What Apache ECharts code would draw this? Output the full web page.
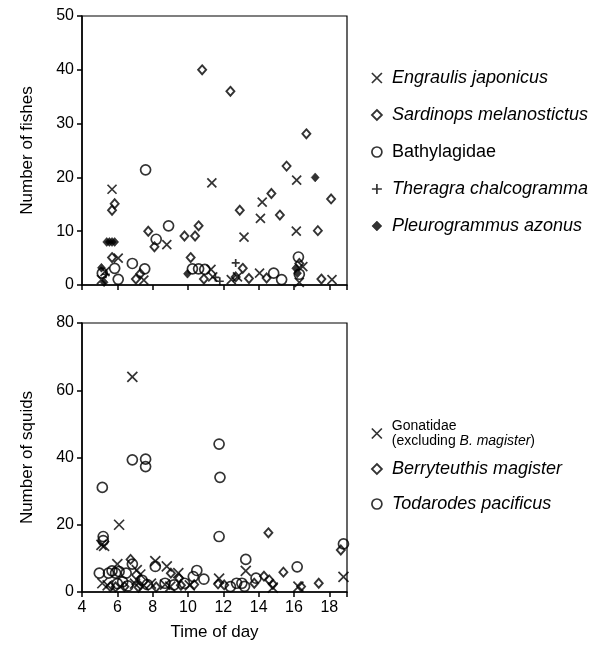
<!DOCTYPE html>
<html><head><meta charset="utf-8">
<script src="https://cdn.jsdelivr.net/npm/echarts@6/dist/echarts.min.js"></script>
<style>html,body{margin:0;padding:0;background:#fff}#c{width:609px;height:647px}</style>
</head><body><div id="c"></div><script>
// ---- Top panel: fishes (time of day, number) ----
const engraulis = [[5.7,17.8],[6.05,5],[5.1,1],[5.3,2.5],[7.5,0.9],[8.8,7.5],[11.35,19],[11.3,2.9],[11.4,1.5],[12.45,1.0],[12.8,1.5],[13.17,8.9],[14.1,12.4],[14.2,15.4],[14.05,2.2],[16.15,19.5],[16.13,10],[16.5,3.4],[16.3,0.5],[18.15,1.0]];
const sardinops = [[5.85,15.1],[5.7,13.9],[5.7,5.1],[7.3,2.1],[7.05,1.1],[7.75,10],[8.1,7.1],[9.8,9.1],[10.4,9.1],[10.6,11],[10.15,5.1],[10.9,1.1],[10.8,40],[12.4,36],[12.93,13.9],[12.7,1.5],[13.1,3.1],[13.45,1.2],[14.45,1.3],[14.72,17],[15.2,13],[15.58,22.1],[16.7,28.1],[16.3,4.0],[17.35,10.1],[17.55,1.1],[18.1,16]];
const bathylagidae = [[5.15,2.2],[5.85,3.1],[6.05,1.05],[6.85,4],[7.55,3.0],[7.6,21.4],[8.2,8.5],[8.9,11],[10.25,3.0],[10.6,3.0],[10.95,2.9],[14.85,2.2],[15.3,1.0],[16.3,2.0],[16.25,5.2]];
const theragra = [[5.35,2.0],[11.55,1.4],[11.8,0.7],[12.7,4.1]];
const pleurogrammus = [[5.4,8],[5.55,8],[5.7,8],[5.85,8],[5.1,3.2],[5.25,0.5],[9.97,2.1],[16.1,3.1],[16.2,2.2],[17.2,20]];
// ---- Bottom panel: squids ----
const gonatidae = [[6.85,64],[6.1,20],[5.1,14],[5.25,13.7],[6.0,8.3],[7.1,6.5],[7.1,3.6],[7.3,5.2],[7.0,2.5],[5.15,2.6],[5.45,2.0],[8.15,9.2],[8.8,7.6],[9.45,5.6],[7.9,2.5],[7.5,2.0],[8.7,2.2],[9.0,1.6],[10.1,2.0],[11.76,4.0],[13.27,6.3],[14.8,1.3],[16.25,1.6],[18.8,4.5]];
const berryteuthis = [[6.75,9.7],[5.6,1.6],[5.9,1.5],[6.4,1.6],[7.2,1.4],[8.2,1.5],[9.03,5.6],[9.5,4.1],[9.6,2.0],[10.35,2.2],[11.7,2.4],[12.05,2.1],[13.75,2.6],[14.3,4.7],[14.6,3.6],[14.8,2.3],[14.55,17.6],[15.4,5.9],[16.4,1.6],[17.4,2.6],[18.65,12.5]];
const todarodes = [[6.85,39.3],[7.6,39.5],[7.6,37.3],[5.15,31.1],[5.2,16.5],[5.2,15.3],[4.98,5.6],[5.5,5.6],[5.7,6.3],[5.9,5.6],[6.1,6.1],[6.5,5.6],[6.85,8.3],[8.15,7.6],[10.5,6.4],[10.3,4.6],[10.9,3.8],[9.2,2.1],[9.8,2.6],[6.0,2.5],[6.3,3.0],[6.6,1.8],[7.4,3.5],[7.7,2.2],[8.7,2.6],[11.76,44],[11.81,34.1],[11.76,16.5],[13.27,9.7],[12.4,1.6],[12.75,2.6],[13.05,2.6],[13.2,1.7],[13.85,4.1],[16.18,7.5],[18.8,14.3]];

const xTicks = {min: 4, max: 19, interval: 2};
const topY = {min: 0, max: 50, interval: 10};
const botY = {min: 0, max: 80, interval: 20};

const CROSS = 'path://M0,0L10,10M10,0L0,10';
const PLUS = 'path://M5,0L5,10M0,5L10,5';
const FONT = '"Liberation Sans", Arial, Helvetica, sans-serif';
const hollow = w => ({color: 'transparent', borderColor: '#000', borderWidth: w});
const filled = {color: '#000', borderColor: '#000', borderWidth: 0.5};

function sc(name, data, idx, symbol, size, style) {
  return {type: 'scatter', name, data, xAxisIndex: idx, yAxisIndex: idx,
    symbol, symbolSize: size, itemStyle: style, silent: true, animation: false};
}
const axisBase = {
  axisLine: {show: true, onZero: false, lineStyle: {color: '#000', width: 1.5}},
  axisTick: {show: true, inside: false, length: 5, lineStyle: {color: '#000', width: 1.5}},
  splitLine: {show: false},
  axisLabel: {color: '#000', fontSize: 16, fontFamily: FONT}
};
const legText = {color: '#000', fontSize: 18, fontFamily: FONT, fontStyle: 'italic', lineHeight: 20, padding: [0, 0, 0, 5]};

const chart = echarts.init(document.getElementById('c'), null, {renderer: 'canvas'});
chart.setOption({
  backgroundColor: '#fff',
  animation: false,
  grid: [
    {left: 82, top: 16, width: 265, height: 269, show: true, borderColor: '#000', borderWidth: 1.2, backgroundColor: 'transparent', containLabel: false, outerBoundsMode: 'none'},
    {left: 82, top: 323, width: 265, height: 269, show: true, borderColor: '#000', borderWidth: 1.2, backgroundColor: 'transparent', containLabel: false, outerBoundsMode: 'none'}
  ],
  xAxis: [
    Object.assign({}, axisBase, {type: 'value', gridIndex: 0, min: xTicks.min, max: xTicks.max, interval: xTicks.interval,
      axisLabel: {show: false}}),
    Object.assign({}, axisBase, {type: 'value', gridIndex: 1, min: xTicks.min, max: xTicks.max, interval: xTicks.interval,
      axisLabel: Object.assign({}, axisBase.axisLabel, {margin: 8, formatter: v => (v % 2 === 0 ? String(v) : '')}),
      name: 'Time of day', nameLocation: 'middle', nameGap: 32,
      nameTextStyle: {color: '#000', fontSize: 17, fontFamily: FONT}})
  ],
  yAxis: [
    Object.assign({}, axisBase, {type: 'value', gridIndex: 0, min: topY.min, max: topY.max, interval: topY.interval,
      name: 'Number of fishes', nameLocation: 'middle', nameGap: 46,
      nameTextStyle: {color: '#000', fontSize: 17, fontFamily: FONT}}),
    Object.assign({}, axisBase, {type: 'value', gridIndex: 1, min: botY.min, max: botY.max, interval: botY.interval,
      name: 'Number of squids', nameLocation: 'middle', nameGap: 46,
      nameTextStyle: {color: '#000', fontSize: 17, fontFamily: FONT}})
  ],
  legend: [
    {orient: 'vertical', left: 366, top: 63, itemGap: 17, itemWidth: 10, itemHeight: 10, selectedMode: false,
      textStyle: legText,
      data: [
        {name: 'Engraulis japonicus', icon: CROSS, itemStyle: hollow(1.7)},
        {name: 'Sardinops melanostictus', icon: 'diamond', itemStyle: hollow(1.8)},
        {name: 'Bathylagidae', icon: 'circle', itemStyle: hollow(1.7), textStyle: Object.assign({}, legText, {fontStyle: 'normal'})},
        {name: 'Theragra chalcogramma', icon: PLUS, itemStyle: hollow(1.7)},
        {name: 'Pleurogrammus azonus', icon: 'diamond', itemStyle: filled}
      ]},
    {orient: 'vertical', left: 366, top: 414, itemWidth: 10, itemHeight: 10, selectedMode: false,
      formatter: () => '{s|Gonatidae}\n{s|(excluding }{si|B. magister}{s|)}',
      textStyle: {color: '#000', fontFamily: FONT, padding: [0, 0, 0, 5],
        rich: {s: {fontSize: 14, fontFamily: FONT, color: '#000', lineHeight: 15},
               si: {fontSize: 14, fontFamily: FONT, color: '#000', fontStyle: 'italic', lineHeight: 15}}},
      data: [{name: 'Gonatidae', icon: CROSS, itemStyle: hollow(1.7)}]},
    {orient: 'vertical', left: 366, top: 454, itemGap: 15, itemWidth: 10, itemHeight: 10, selectedMode: false,
      textStyle: legText,
      data: [
        {name: 'Berryteuthis magister', icon: 'diamond', itemStyle: hollow(1.8)},
        {name: 'Todarodes pacificus', icon: 'circle', itemStyle: hollow(1.7)}
      ]}
  ],
  series: [
    sc('Engraulis japonicus', engraulis, 0, CROSS, 9, hollow(1.7)),
    sc('Sardinops melanostictus', sardinops, 0, 'diamond', [8, 9], hollow(1.9)),
    sc('Bathylagidae', bathylagidae, 0, 'circle', 10, hollow(1.7)),
    sc('Theragra chalcogramma', theragra, 0, PLUS, 8, hollow(1.7)),
    sc('Pleurogrammus azonus', pleurogrammus, 0, 'diamond', [8, 9], filled),
    sc('Gonatidae', gonatidae, 1, CROSS, 10, hollow(1.7)),
    sc('Berryteuthis magister', berryteuthis, 1, 'diamond', [8, 9], hollow(1.9)),
    sc('Todarodes pacificus', todarodes, 1, 'circle', 10, hollow(1.7))
  ]
});
</script></body></html>
